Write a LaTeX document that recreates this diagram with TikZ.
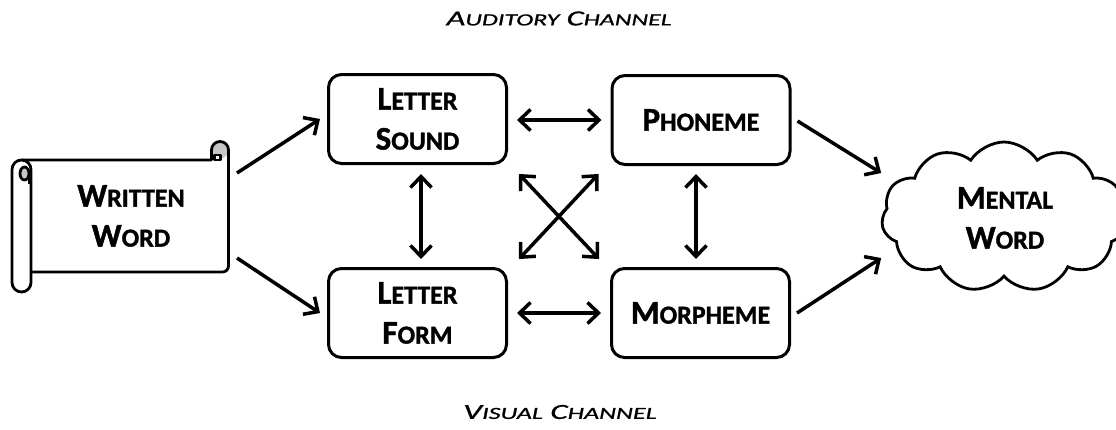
\documentclass[tikz,border=0pt]{standalone}
\usepackage{fontspec}
\newfontfamily\carl{Carlito}[BoldFeatures={FakeBold=1.3},ItalicFeatures={FakeBold=0.8}]
\usetikzlibrary{arrows.meta,shapes.symbols,calc}
\newcommand\boxsc[2]{{\fontsize{33}{40}\selectfont #1}{\fontsize{26}{40}\selectfont #2}}
\newcommand\smallchan[1]{{\fontsize{17}{24}\selectfont #1}}
\begin{document}
\begin{tikzpicture}[x=1pt,y=-1pt,
  box/.style={draw, line width=3pt, rounded corners=13pt, minimum width=178pt, minimum height=89pt,
    align=center, font=\carl\bfseries\fontsize{33}{40}\selectfont, inner sep=0pt},
  lbl/.style={align=center, font=\carl\bfseries\fontsize{33}{40}\selectfont, inner sep=0pt},
  sline/.style={line width=2.8pt, line join=round},
  arr/.style={line width=3.5pt, -{Straight Barb[length=11pt,width=21pt]}},
  darr/.style={line width=3.5pt, {Straight Barb[length=11pt,width=21pt]}-{Straight Barb[length=11pt,width=21pt]}},
  chan/.style={font=\carl\itshape\fontsize{21.5}{24}\selectfont, inner sep=0pt}]
\useasboundingbox (0,0) rectangle (1116,429);

% ---- scroll (Written Word)
\fill[white] (22,160) rectangle (228.5,272);
\fill[black!22] (220,150) circle (8.5);
\draw[sline] (22,160) -- (211.5,160) -- (211.5,150) arc[start angle=180,end angle=360,radius=8.5]
  -- (228.5,266) arc[start angle=0,end angle=90,radius=6] -- (22,272);
\draw[sline, fill=white] (214.5,155) rectangle (220.5,160);
\draw[sline, fill=white, rounded corners=9.5pt] (12,160) rectangle (31,292);
\draw[sline, fill=black!22] (24.5,173.5) ellipse[x radius=4.5, y radius=6.5];
\draw[sline] (29,173.5) -- (29,184);
\node[lbl] (WW) at (131,216) {\boxsc{W}{RITTEN}\\\boxsc{W}{ORD}};
\coordinate (WWne) at (230,160);
\coordinate (WWse) at (230,272);

% ---- boxes
\node[box] (LS) at (417.5,119) {\boxsc{L}{ETTER}\\\boxsc{S}{OUND}};
\node[box] (PH) at (701,120) {\boxsc{P}{HONEME}};
\node[box] (LF) at (417.5,313) {\boxsc{L}{ETTER}\\\boxsc{F}{ORM}};
\node[box] (MO) at (700.5,313) {\boxsc{M}{ORPHEME}};

% ---- cloud
\node[cloud, draw, line width=2.8pt, cloud puffs=11, cloud puff arc=115, aspect=1.6,
  minimum width=245pt, minimum height=150pt, inner sep=0pt] (MWc) at (1004,217) {};
\node[lbl] (MW) at (1005,218) {\boxsc{M}{ENTAL}\\\boxsc{W}{ORD}};

% ---- channel labels
\node[chan] (AC) at (559,18.5) {\scalebox{1.52}[1]{A\smallchan{UDITORY} C\smallchan{HANNEL}}};
\node[chan] (VC) at (560,412) {\scalebox{1.54}[1]{V\smallchan{ISUAL} C\smallchan{HANNEL}}};

% ---- connectors
\draw[arr] ($(WWne)+(7,13)$) -- ($(LS.west)+(-7,0)$);
\draw[arr] ($(WWse)+(7,-14)$) -- ($(LF.west)+(-7,0)$);
\draw[darr] ($(LS.east)+(9,1)$) -- ($(PH.west)+(-9,0)$);
\draw[darr] ($(LF.east)+(9,0)$) -- ($(MO.west)+(-9,0)$);
\draw[darr] ($(LS.south)+(3.5,9)$) -- ($(LF.north)+(3.5,-8)$);
\draw[darr] ($(PH.south)+(-5,8)$) -- ($(MO.north)+(-4.5,-8)$);
\draw[darr] ($(LS.south east)+(11,9)$) -- ($(MO.north west)+(-11,-8)$);
\draw[darr] ($(PH.south west)+(-12,8)$) -- ($(LF.north east)+(11,-8)$);
\draw[arr] ($(PH.east)+(6,1)$) -- ($(MWc.west)+(0,-44)$);
\draw[arr] ($(MO.east)+(6,0)$) -- ($(MWc.west)+(0,41)$);
\end{tikzpicture}
\end{document}
